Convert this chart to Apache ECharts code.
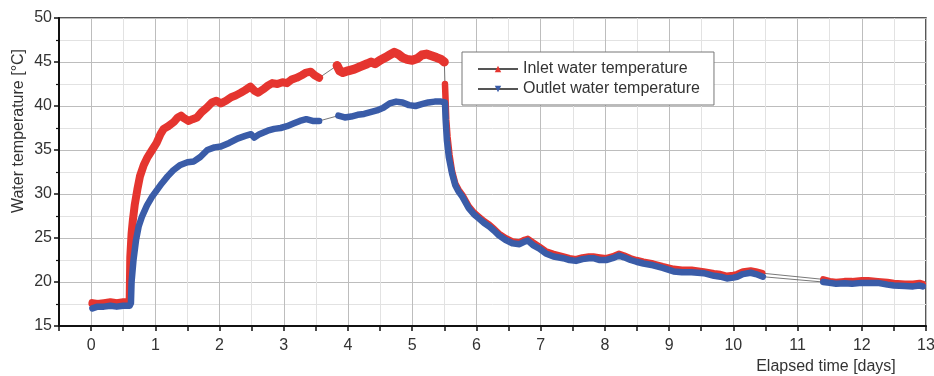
<!DOCTYPE html>
<html>
<head>
<meta charset="utf-8">
<script src="https://cdn.jsdelivr.net/npm/echarts@6/dist/echarts.min.js"></script>
<style>
  html, body { margin: 0; padding: 0; background: #fff; }
  #chart { width: 934px; height: 376px; }
</style>
</head>
<body>
<div id="chart"></div>
<script>
// [elapsed days, °C], split where the logger had gaps
const inletA = [
  [0.02, 17.6], [0.1, 17.5], [0.2, 17.6], [0.3, 17.7], [0.4, 17.6], [0.5, 17.7], [0.6, 17.7],
  [0.61, 22.8], [0.63, 25.5], [0.65, 27.0], [0.68, 28.8], [0.72, 30.5], [0.76, 32.0], [0.82, 33.3],
  [0.88, 34.2], [0.95, 35.0], [1.02, 35.8], [1.08, 36.8], [1.13, 37.4], [1.2, 37.7], [1.29, 38.2],
  [1.35, 38.7], [1.4, 38.9], [1.45, 38.6], [1.52, 38.3], [1.58, 38.5], [1.65, 38.7], [1.72, 39.3],
  [1.8, 39.8], [1.88, 40.4], [1.95, 40.6], [2.02, 40.3], [2.1, 40.6], [2.18, 41.0], [2.25, 41.2],
  [2.33, 41.5], [2.4, 41.8], [2.48, 42.2], [2.55, 41.7], [2.6, 41.5], [2.68, 41.9], [2.75, 42.3],
  [2.82, 42.6], [2.9, 42.5], [2.98, 42.7], [3.05, 42.6], [3.12, 43.0], [3.2, 43.2], [3.28, 43.5],
  [3.35, 43.8], [3.42, 43.9], [3.48, 43.5], [3.55, 43.2]
];
const inletB = [
  [3.83, 44.6], [3.87, 44.0], [3.92, 43.8], [4.0, 44.0], [4.1, 44.2], [4.2, 44.5], [4.3, 44.8],
  [4.36, 45.0], [4.42, 44.8], [4.5, 45.2], [4.58, 45.5], [4.65, 45.8], [4.72, 46.1], [4.78, 45.9],
  [4.85, 45.5], [4.92, 45.3], [5.0, 45.2], [5.08, 45.4], [5.15, 45.8], [5.22, 45.9], [5.3, 45.7],
  [5.38, 45.5], [5.45, 45.3], [5.5, 45.0]
];
const inletD = [
  [5.51, 42.5], [5.52, 40.6], [5.53, 38.5], [5.55, 36.5], [5.58, 34.5], [5.62, 32.6], [5.67, 31.2],
  [5.72, 30.5], [5.78, 29.9], [5.88, 28.6], [5.96, 27.9], [6.04, 27.4], [6.12, 26.9], [6.2, 26.5],
  [6.28, 26.0], [6.35, 25.5], [6.45, 25.0], [6.56, 24.6], [6.67, 24.5], [6.75, 24.8], [6.8, 24.9],
  [6.88, 24.5], [6.98, 24.0], [7.08, 23.5], [7.2, 23.2], [7.35, 22.9], [7.45, 22.7], [7.55, 22.6],
  [7.65, 22.8], [7.75, 22.9], [7.82, 22.9], [7.92, 22.8], [8.02, 22.7], [8.12, 22.9], [8.22, 23.2],
  [8.3, 23.0], [8.4, 22.7], [8.49, 22.5], [8.6, 22.3], [8.75, 22.1], [8.9, 21.8], [9.07, 21.5],
  [9.2, 21.4], [9.35, 21.4], [9.54, 21.2], [9.7, 21.0], [9.8, 20.9], [9.9, 20.7], [10.0, 20.8],
  [10.06, 20.9], [10.15, 21.2], [10.27, 21.3], [10.35, 21.2], [10.45, 21.0]
];
const inletC = [
  [11.4, 20.3], [11.5, 20.1], [11.6, 20.0], [11.73, 20.1], [11.85, 20.1], [12.0, 20.2], [12.1, 20.2],
  [12.25, 20.1], [12.4, 20.0], [12.5, 19.9], [12.67, 19.8], [12.8, 19.8], [12.9, 19.9], [12.95, 19.8]
];

const outletA = [
  [0.02, 17.0], [0.1, 17.2], [0.2, 17.2], [0.3, 17.3], [0.4, 17.2], [0.5, 17.3], [0.6, 17.3],
  [0.62, 17.6], [0.63, 20.0], [0.66, 22.5], [0.7, 24.8], [0.74, 26.3], [0.79, 27.4], [0.87, 28.7],
  [0.95, 29.7], [1.03, 30.5], [1.1, 31.2], [1.19, 32.0], [1.28, 32.7], [1.39, 33.3], [1.5, 33.6],
  [1.6, 33.7], [1.7, 34.2], [1.81, 35.0], [1.92, 35.3], [2.02, 35.4], [2.15, 35.8], [2.28, 36.3],
  [2.4, 36.6], [2.49, 36.8], [2.54, 36.4], [2.62, 36.8], [2.75, 37.2], [2.85, 37.4], [2.95, 37.5],
  [3.05, 37.7], [3.15, 38.0], [3.25, 38.3], [3.35, 38.5], [3.45, 38.3], [3.55, 38.3]
];
const outletB = [
  [3.85, 38.9], [3.95, 38.7], [4.05, 38.8], [4.15, 39.0], [4.25, 39.1], [4.35, 39.3], [4.45, 39.5],
  [4.55, 39.8], [4.65, 40.3], [4.75, 40.5], [4.85, 40.4], [4.95, 40.1], [5.05, 40.0], [5.15, 40.2],
  [5.25, 40.4], [5.35, 40.5], [5.45, 40.5], [5.51, 40.4],
  [5.52, 38.5], [5.54, 36.1], [5.57, 34.2], [5.62, 32.35], [5.67, 31.0], [5.72, 30.3], [5.78, 29.7],
  [5.88, 28.4], [5.96, 27.7], [6.04, 27.2], [6.12, 26.7], [6.2, 26.3], [6.28, 25.8], [6.35, 25.3],
  [6.45, 24.8], [6.56, 24.4], [6.67, 24.3], [6.75, 24.6], [6.8, 24.7], [6.88, 24.2], [6.98, 23.8],
  [7.08, 23.25], [7.2, 22.9], [7.35, 22.7], [7.45, 22.5], [7.55, 22.4], [7.65, 22.6], [7.75, 22.7],
  [7.82, 22.7], [7.92, 22.5], [8.02, 22.5], [8.12, 22.7], [8.22, 23.0], [8.3, 22.8], [8.4, 22.5],
  [8.49, 22.3], [8.6, 22.1], [8.75, 21.9], [8.9, 21.6], [9.07, 21.2], [9.2, 21.1], [9.35, 21.1],
  [9.54, 21.0], [9.7, 20.7], [9.8, 20.6], [9.9, 20.4], [10.0, 20.5], [10.06, 20.6], [10.15, 20.9],
  [10.27, 21.05], [10.35, 20.9], [10.46, 20.6]
];
const outletC = [
  [11.4, 20.0], [11.5, 19.9], [11.6, 19.8], [11.73, 19.85], [11.85, 19.8], [12.0, 19.9], [12.1, 19.9],
  [12.25, 19.9], [12.4, 19.7], [12.5, 19.6], [12.67, 19.55], [12.8, 19.5], [12.9, 19.6], [12.95, 19.5]
];

const seriesNames = ["Inlet water temperature", "Outlet water temperature"];
const xTitle = "Elapsed time [days]";
const yTitle = "Water temperature [°C]";

const RED = "#e5352f";
const BLUE = "#3a5ca8";
const FONT = "Liberation Sans, Arial, sans-serif";
const MAJOR = "#bdbdbd";
const MINOR = "#e2e2e2";

// thick stroke standing in for the dense cloud of logged points
function band(data, color, width, z) {
  return {
    type: "line",
    data,
    symbol: "none",
    lineStyle: { color, width, join: "round", cap: "round" },
    z,
    silent: true,
  };
}

const chart = echarts.init(document.getElementById("chart"), null, { renderer: "canvas" });

chart.setOption({
  animation: false,
  backgroundColor: "#fff",
  textStyle: { fontFamily: FONT },
  grid: {
    left: 59, right: 8, top: 18, bottom: 50,
    show: true, borderColor: "#222", borderWidth: 1.5,
    containLabel: false, outerBoundsMode: "none",
  },
  legend: {
    data: seriesNames,
    orient: "vertical",
    left: 462, top: 52,
    padding: [9, 14, 8, 15],
    itemWidth: 40, itemHeight: 8, itemGap: 4,
    backgroundColor: "#fff",
    borderColor: "#777", borderWidth: 1,
    textStyle: { fontSize: 16, color: "#333", fontFamily: FONT },
  },
  xAxis: {
    type: "value",
    min: -0.5, max: 13, interval: 0.5,
    axisLine: { onZero: false, lineStyle: { color: "#111", width: 2 } },
    axisTick: { length: 5, lineStyle: { color: "#111", width: 1.5 } },
    axisLabel: {
      margin: 12, fontSize: 16, color: "#333", fontFamily: FONT,
      formatter: (v) => (Number.isInteger(v) ? String(v) : ""),
    },
    splitLine: { show: true, lineStyle: { color: [MINOR, MAJOR], width: 1 } },
  },
  yAxis: {
    type: "value",
    min: 15, max: 50, interval: 5,
    axisLine: { show: true, onZero: false, lineStyle: { color: "#111", width: 2 } },
    axisTick: { show: true, length: 5, lineStyle: { color: "#111", width: 1.5 } },
    minorTick: { show: true, splitNumber: 2, length: 3, lineStyle: { color: "#111", width: 1.2 } },
    axisLabel: { margin: 7, fontSize: 16, color: "#333", fontFamily: FONT },
    splitLine: { show: true, lineStyle: { color: MAJOR, width: 1 } },
    minorSplitLine: { show: true, lineStyle: { color: MINOR, width: 1 } },
  },
  graphic: [
    {
      type: "text", x: 19, y: 131, rotation: Math.PI / 2,
      style: { text: yTitle, font: `16px ${FONT}`, fill: "#333", textAlign: "center", textVerticalAlign: "middle" },
    },
    {
      type: "text", x: 826, y: 367,
      style: { text: xTitle, font: `16px ${FONT}`, fill: "#333", textAlign: "center", textVerticalAlign: "middle" },
    },
  ],
  series: [
    {
      name: seriesNames[0], type: "line",
      data: inletA.concat(inletB, inletD, inletC),
      symbol: "triangle", symbolSize: 6, showSymbol: false,
      itemStyle: { color: RED },
      lineStyle: { color: "#555", width: 0.8 },
      z: 1,
    },
    {
      name: seriesNames[1], type: "line",
      data: outletA.concat(outletB, outletC),
      symbol: "triangle", symbolRotate: 180, symbolSize: 6, showSymbol: false,
      itemStyle: { color: BLUE },
      lineStyle: { color: "#555", width: 0.8 },
      z: 1,
    },
    band(inletA, RED, 8, 2),
    band(inletB, RED, 9, 2),
    band(inletD, RED, 6.5, 2),
    band(inletC, RED, 6.5, 2),
    band(outletA, BLUE, 6.5, 3),
    band(outletB, BLUE, 6.5, 3),
    band(outletC, BLUE, 6.5, 3),
  ],
});
</script>
</body>
</html>
